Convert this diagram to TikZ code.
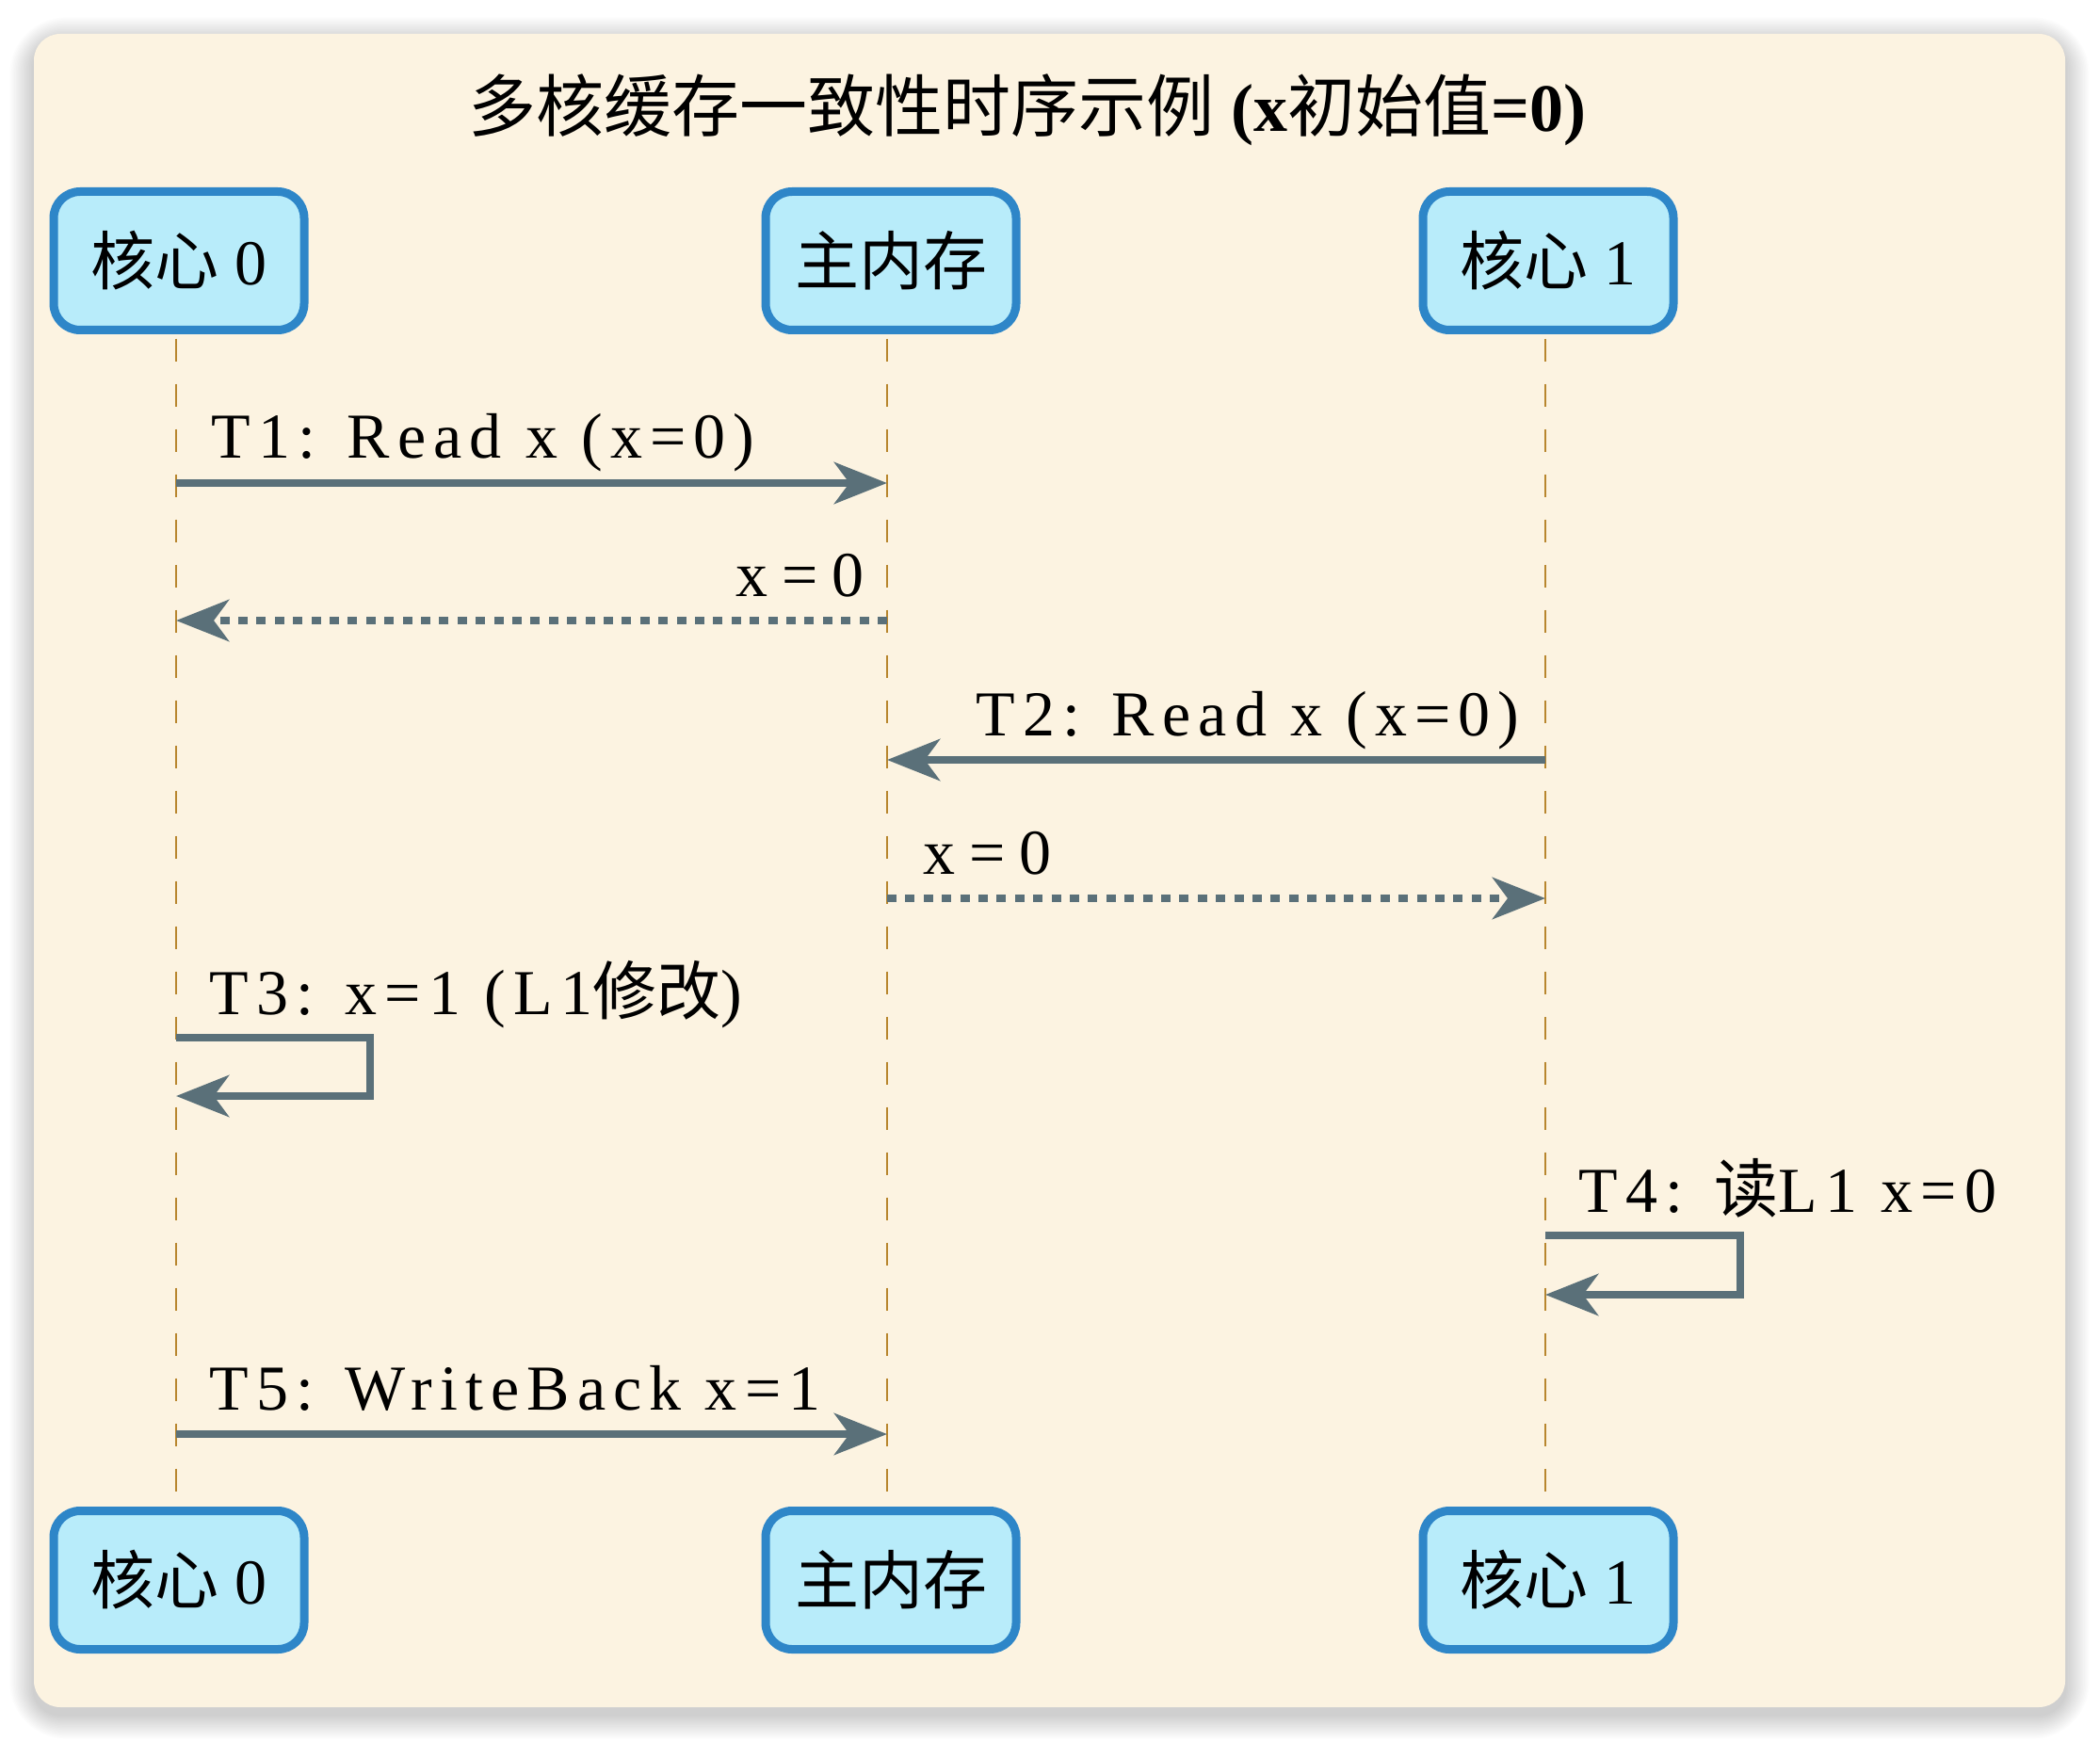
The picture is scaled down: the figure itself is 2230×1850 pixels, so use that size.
\documentclass[tikz,border=0pt]{standalone}
\usepackage{fontspec}
\setmainfont{Liberation Serif}
\newfontfamily\cjk{Noto Sans CJK SC}
\newfontfamily\lbl[LetterSpace=12]{Liberation Serif}
\usetikzlibrary{arrows.meta}
\definecolor{panelbg}{HTML}{FCF3E1}
\definecolor{boxfill}{HTML}{B8ECFA}
\definecolor{boxdraw}{HTML}{2E86C8}
\definecolor{msgc}{HTML}{5A7079}
\definecolor{lifec}{HTML}{B8862E}
\tikzset{
  participant/.style={draw=boxdraw, fill=boxfill, line width=4.5pt, rounded corners=14pt,
    minimum width=133pt, minimum height=73.5pt, inner sep=0pt,
    font=\fontsize{34}{40}\selectfont},
  lifeline/.style={draw=lifec, line width=1pt, dash pattern=on 12pt off 12pt,
    shorten <=2.3pt, shorten >=2.3pt},
  msgline/.style={draw=msgc, line width=4.3pt, -{Stealth[length=28pt,width=22pt,inset=8pt]}},
  replyline/.style={msgline, dash pattern=on 5pt off 4.7pt},
  lab/.style={font=\lbl\fontsize{34}{40}\selectfont, inner sep=0pt}
}
\newcommand{\gapsp}{\hspace{0.22em}}
\begin{document}
\begin{tikzpicture}[x=0.5pt,y=-0.5pt]
\useasboundingbox (0,0) rectangle (2230,1850);
\fill[white] (0,0) rectangle (2230,1850);
% soft shadow
\foreach \i in {1,...,16}{
  \fill[black, opacity=0.012, rounded corners={14pt+\i*1pt}]
    ({36-1.6*\i},{36+8-1.6*\i}) rectangle ({2193+1.6*\i},{1813+8+1.6*\i});
}
\fill[panelbg, rounded corners=14pt] (36,36) rectangle (2193,1813);

% title
\node[anchor=base, inner sep=0pt, font=\fontsize{36}{42}\selectfont\bfseries] (title) at (1091,140)
  {{\mdseries\cjk 多核缓存一致性时序示例} (x{\mdseries\cjk 初始值}=0)};

% participants
\node[participant] (c0top) at (190,277) {{\cjk 核心} 0};
\node[participant] (memtop) at (946,277) {\cjk 主内存};
\node[participant] (c1top) at (1644,277) {{\cjk 核心} 1};
\node[participant] (c0bot) at (190,1678) {{\cjk 核心} 0};
\node[participant] (membot) at (946,1678) {\cjk 主内存};
\node[participant] (c1bot) at (1644,1678) {{\cjk 核心} 1};

% lifeline anchor coordinates
\coordinate (x0) at (187,0);
\coordinate (x1) at (942,0);
\coordinate (x2) at (1641,0);

% lifelines
\draw[lifeline] (x0 |- c0top.south) -- (x0 |- c0bot.north);
\draw[lifeline] (x1 |- memtop.south) -- (x1 |- membot.north);
\draw[lifeline] (x2 |- c1top.south) -- (x2 |- c1bot.north);

% T1
\draw[msgline] (x0 |- 0,513) -- (x1 |- 0,513);
\node[lab, anchor=base west] (l1) at (224,487) {T1: Read x (x=0)};
% reply
\draw[replyline] (x1 |- 0,659) -- (x0 |- 0,659);
\node[lab, anchor=base east] (l2) at (918,633) {x\gapsp=\gapsp0};
% T2
\draw[msgline] (x2 |- 0,807) -- (x1 |- 0,807);
\node[lab, anchor=base east] (l3) at (1614,781) {T2: Read x (x=0)};
% reply
\draw[replyline] (x1 |- 0,954) -- (x2 |- 0,954);
\node[lab, anchor=base west] (l4) at (980,928) {x\gapsp=\gapsp0};
% T3 self
\draw[msgline] (x0 |- 0,1102) -- ++(206,0) -- ++(0,62) -- (x0 |- 0,1164);
\node[lab, anchor=base west] (l5) at (222,1077) {T3: x=1 (L1{\cjk 修改})};
% T4 self
\draw[msgline] (x2 |- 0,1312) -- ++(207,0) -- ++(0,63) -- (x2 |- 0,1375);
\node[lab, anchor=base west] (l6) at (1676,1287) {T4: {\cjk 读}L1 x=0};
% T5
\draw[msgline] (x0 |- 0,1523) -- (x1 |- 0,1523);
\node[lab, anchor=base west] (l7) at (222,1497) {T5: WriteBack x=1};
\end{tikzpicture}
\end{document}
